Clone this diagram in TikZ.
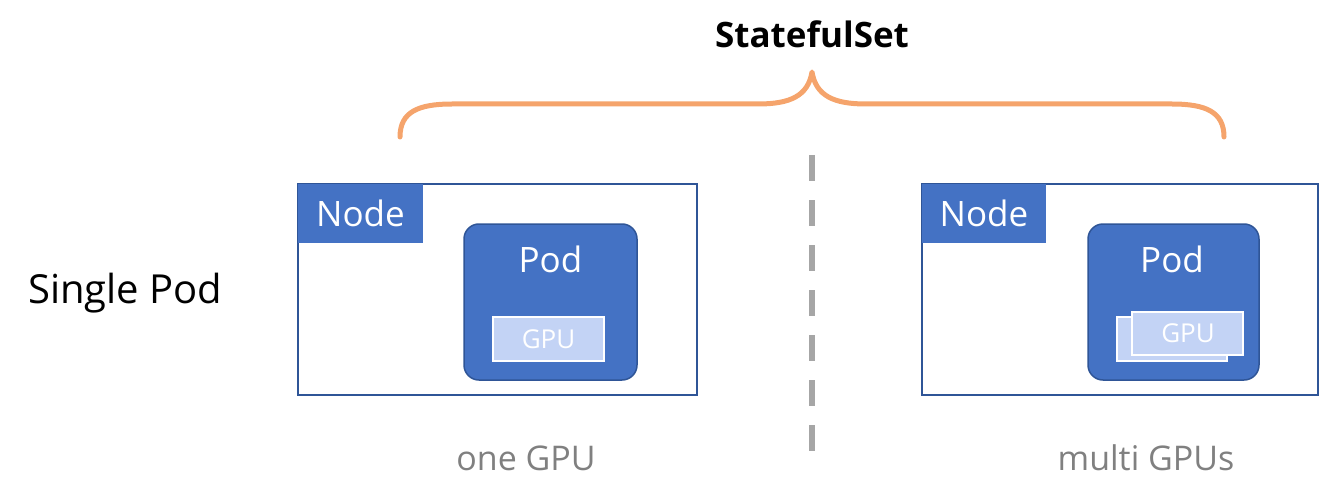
\documentclass[tikz,border=0pt]{standalone}
\usepackage{fontspec}
\setmainfont{Open Sans}
\definecolor{nodeblue}{HTML}{4472C4}
\definecolor{edgeblue}{HTML}{2F5597}
\definecolor{gpufill}{HTML}{C3D3F5}
\definecolor{braceorange}{HTML}{F5A46C}
\definecolor{dashgray}{HTML}{A6A6A6}
\definecolor{labelgray}{HTML}{808080}
\begin{document}
\begin{tikzpicture}[x=1pt,y=-1pt,
  hostbox/.style={draw=edgeblue,line width=2pt,fill=white,minimum width=#1,minimum height=211pt,inner sep=0pt},
  hostlabel/.style={fill=nodeblue,minimum width=#1,minimum height=59pt,inner sep=0pt},
  podbox/.style={draw=edgeblue,line width=1.5pt,fill=nodeblue,rounded corners=15pt,minimum width=#1,minimum height=156pt,inner sep=0pt},
  gpubox/.style={draw=white,line width=2pt,fill=gpufill,minimum width=#1,minimum height=44pt,inner sep=0pt},
  wtext/.style={text=white,font=\fontsize{35}{40}\selectfont,anchor=base,inner sep=0pt},
  gtext/.style={text=white,font=\fontsize{26}{30}\selectfont,anchor=base,inner sep=0pt},
  captext/.style={text=labelgray,font=\fontsize{34}{40}\selectfont,anchor=base,inner sep=0pt}]
\useasboundingbox (0,0) rectangle (1336,500);
% title and brace
\node[font=\bfseries\fontsize{35}{40}\selectfont,anchor=base,inner sep=0pt] (title) at (812,48) {StatefulSet};
\coordinate (bl) at (400,137);
\coordinate (bt) at (812,72);
\coordinate (br) at (1224,137);
\draw[braceorange,line width=5pt,line cap=round,line join=round]
  (bl) .. controls (400,112) and (418,104) .. (452,104) -- (758,104)
  .. controls (790,104) and (808,96) .. (bt)
  .. controls (816,96) and (834,104) .. (866,104) -- (1172,104)
  .. controls (1206,104) and (1224,112) .. (br);
% dashed separator
\coordinate (dtop) at (812,155);
\coordinate (dbot) at (812,452);
\draw[dashgray,line width=6pt,dash pattern=on 26pt off 19pt] (dtop) -- (dbot);
% left label
\node[font=\fontsize{40}{46}\selectfont,anchor=base west,inner sep=0pt] (single) at (28,303) {Single Pod};
% left host
\node[hostbox=399pt] (hostL) at (497.5,289.5) {};
\node[hostlabel=125pt] (labL) at (360.5,213.5) {};
\node[wtext] (labLt) at (360.5,226) {Node};
\node[podbox=173pt] (podL) at (550.5,302) {};
\node[wtext] (podLt) at (550.5,272) {Pod};
\node[gpubox=111pt] (gpuL) at (548.5,339) {};
\node[gtext] (gpuLt) at (548.5,348) {GPU};
% right host
\node[hostbox=396pt] (hostR) at (1120,289.5) {};
\node[hostlabel=124pt] (labR) at (984,213.5) {};
\node[wtext] (labRt) at (984,226) {Node};
\node[podbox=171pt] (podR) at (1173.5,302) {};
\node[wtext] (podRt) at (1172,272) {Pod};
\node[gpubox=110pt] (gpuRb) at (1172,339) {};
\node[gpubox=111pt,minimum height=43pt] (gpuRf) at (1187.5,333.5) {};
\node[gtext] (gpuRt) at (1188,342) {GPU};
% captions
\node[captext] (capL) at (526,470) {one GPU};
\node[captext] (capR) at (1146,470) {multi GPUs};
\end{tikzpicture}
\end{document}
